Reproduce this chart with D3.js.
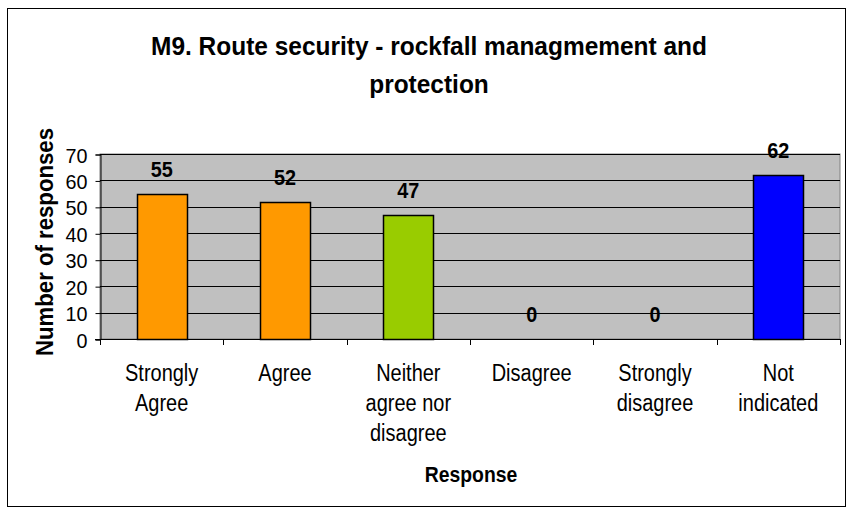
<!DOCTYPE html>
<html><head><meta charset="utf-8">
<script src="https://cdn.jsdelivr.net/npm/d3@7"></script>
<style>body{margin:0;background:#fff}svg{display:block;font-family:"Liberation Sans",Arial,sans-serif}</style>
</head><body><svg id="c" width="848" height="514"></svg>
<script>
const categories = [["Strongly","Agree"],["Agree"],["Neither","agree nor","disagree"],["Disagree"],["Strongly","disagree"],["Not","indicated"]];
const values = [55,52,47,0,0,62];
const colors = ["#ff9900","#ff9900","#99cc00","#ff9900","#ff9900","#0000ff"];
const yTicks = [0,10,20,30,40,50,60,70];
const titleLines = ["M9. Route security - rockfall managmement and","protection"];
const xTitle = "Response", yTitle = "Number of responses";

function condense(sel, ratio){
  sel.each(function(){ const w=this.getComputedTextLength(); d3.select(this).attr("textLength",w*ratio).attr("lengthAdjust","spacingAndGlyphs"); });
}

const svg = d3.select("#c");
svg.append("rect").attr("x",7.5).attr("y",8.5).attr("width",838).attr("height",498).attr("fill","#fff").attr("stroke","#000").attr("stroke-width",1);
const L=100,R=840,T=154,B=339;
const idx = d3.range(values.length);
const x = d3.scaleBand().domain(idx).range([L,R]).paddingInner(0.595).paddingOuter(0.2975);
const y = d3.scaleLinear().domain([0,70]).range([B,T]);
svg.append("rect").attr("x",L).attr("y",T).attr("width",R-L).attr("height",B-T).attr("fill","#c0c0c0").attr("stroke","#808080");
svg.append("g").selectAll("line").data(yTicks.slice(1)).join("line")
  .attr("x1",L).attr("x2",R).attr("y1",d=>Math.round(y(d))+0.5).attr("y2",d=>Math.round(y(d))+0.5).attr("stroke","#000");
svg.append("g").selectAll("rect").data(idx).join("rect")
  .attr("x",i=>Math.round(x(i))+0.5).attr("width",Math.round(x.bandwidth()))
  .attr("y",i=>Math.round(y(values[i]))+0.5).attr("height",i=>B-Math.round(y(values[i])))
  .attr("fill",i=>colors[i]).attr("stroke","#000").attr("stroke-width",1.5);
// y axis
const ya = svg.append("g").attr("transform",`translate(${L+0.5},0.5)`)
  .call(d3.axisLeft(y).tickValues(yTicks).tickSize(5).tickPadding(8).tickFormat(d3.format("d")));
ya.select(".domain").attr("stroke","#000");
ya.selectAll(".tick line").attr("stroke","#000");
ya.selectAll("text").attr("font-size",21).attr("font-family","Liberation Sans, Arial, sans-serif").attr("fill","#000").attr("dy","0.36em");
condense(ya.selectAll("text"),0.94);
// x axis
const step = (R-L)/values.length;
const xa = svg.append("g");
xa.append("line").attr("x1",L-5).attr("x2",R+0.5).attr("y1",B+0.5).attr("y2",B+0.5).attr("stroke","#000");
xa.selectAll(".t").data(d3.range(values.length+1)).join("line").attr("class","t")
  .attr("x1",i=>Math.round(L+i*step)+0.5).attr("x2",i=>Math.round(L+i*step)+0.5).attr("y1",B).attr("y2",B+6).attr("stroke","#000");
const cx = i=>x(i)+x.bandwidth()/2;
xa.selectAll("text").data(categories.flatMap((c,i)=>c.map((s,k)=>({s,k,i})))).join("text")
  .attr("x",d=>cx(d.i)).attr("y",d=>381+d.k*30).attr("text-anchor","middle").attr("font-size",23.5).attr("fill","#000")
  .text(d=>d.s);
condense(xa.selectAll("text"),0.85);
// value labels
const vl = svg.append("g").selectAll("text").data(idx).join("text")
  .attr("x",cx).attr("y",i=>y(values[i])-17).attr("text-anchor","middle")
  .attr("font-size",22).attr("font-weight","bold").text(i=>values[i]);
condense(vl,0.9);
// titles
const tt = svg.append("g").selectAll("text").data(titleLines).join("text")
  .attr("x",429).attr("y",(d,i)=>55+i*38).attr("text-anchor","middle").attr("font-size",26).attr("font-weight","bold").text(d=>d);
let tr = 556/tt.nodes()[0].getComputedTextLength();
condense(tt,tr);
const xt = svg.append("text").attr("x",471).attr("y",482).attr("text-anchor","middle").attr("font-size",21.5).attr("font-weight","bold").text(xTitle);
condense(xt,0.9);
const yt = svg.append("text").attr("transform","translate(53,242) rotate(-90)").attr("text-anchor","middle").attr("font-size",23).attr("font-weight","bold").text(yTitle);
yt.attr("textLength",228).attr("lengthAdjust","spacingAndGlyphs");
</script></body></html>
